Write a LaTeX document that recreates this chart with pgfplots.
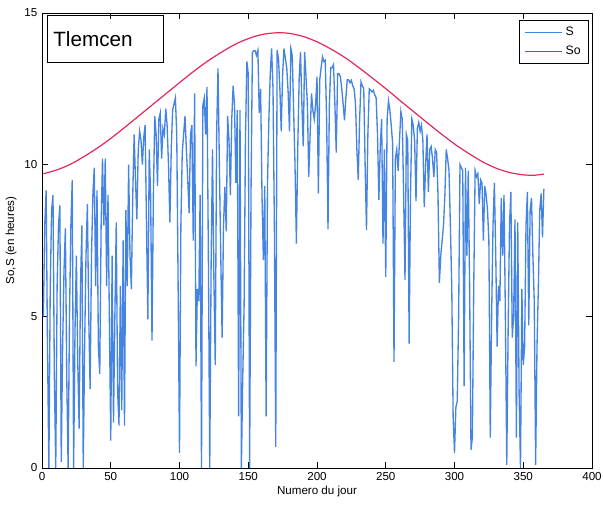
\documentclass[border=0pt]{standalone}
\usepackage{pgfplots}
\pgfplotsset{compat=1.18}
\usepackage{pgfplotstable}
\usepackage{fontspec}
\setmainfont{Liberation Sans}
\definecolor{sblue}{RGB}{70,132,228}
\definecolor{sored}{RGB}{228,40,90}

\pgfplotstableread{
y
5.0
8.0
9.15
4.0
0.0
6.0
8.5
9.0
3.0
0.0
6.0
8.0
8.66
0.2
4.0
6.5
7.9
3.0
0.0
5.0
8.0
9.5
0.0
4.5
7.0
3.5
1.3
6.0
8.0
0.0
4.0
7.0
8.7
5.0
2.6
7.0
9.0
9.9
6.0
9.15
4.0
3.1
8.0
10.2
8.0
10.2
6.0
9.0
4.9
0.9
7.0
1.5
5.0
8.1
2.5
1.4
6.0
1.9
7.5
1.4
8.5
6.0
10.0
7.0
5.9
9.0
11.0
9.5
8.2
10.5
11.1
10.8
10.0
10.9
11.3
8.0
4.9
10.5
9.0
4.2
9.0
11.6
11.0
9.3
11.5
11.7
10.2
11.2
11.0
11.85
11.3
10.0
8.1
10.5
11.8
12.0
12.2
11.0
6.0
0.5
8.0
10.4
11.0
11.6
10.5
9.5
8.4
11.0
11.3
7.5
12.35
3.35
5.9
5.5
9.0
0.0
11.96
12.2
11.0
12.56
7.0
0.0
6.75
10.5
6.3
3.4
11.0
13.17
10.0
7.0
4.3
8.0
9.27
7.8
11.6
10.8
9.0
11.5
12.6
12.0
9.4
11.8
1.7
11.8
0.0
3.0
5.4
11.0
13.4
13.0
0.0
9.0
13.7
13.75
13.75
13.6
13.77
11.7
12.5
9.0
6.85
9.3
1.7
9.4
11.5
13.0
13.83
12.5
8.0
0.7
13.77
13.5
12.5
11.1
13.0
13.83
13.5
13.2
12.4
11.1
13.83
13.6
11.8
10.0
7.4
10.5
12.8
13.72
12.0
10.6
13.72
12.9
12.0
9.6
11.0
12.35
11.8
11.5
12.0
12.9
9.05
12.8
13.2
13.55
13.4
13.44
11.5
7.87
12.0
13.2
13.2
13.3
12.0
10.4
13.0
13.0
12.9
12.5
12.0
11.46
12.2
12.8
12.8
12.7
12.78
12.6
12.5
12.0
10.5
9.49
11.5
12.73
12.6
12.5
10.0
7.84
11.0
12.5
12.45
12.4
12.45
12.3
12.2
11.0
8.83
10.6
11.5
7.4
10.5
6.3
11.5
12.1
11.8
11.3
10.7
3.5
10.2
10.5
9.8
10.8
11.75
11.5
9.0
6.2
11.0
10.8
4.1
9.0
11.5
11.3
10.8
8.8
11.2
11.4
11.1
11.3
10.8
8.6
10.0
11.0
9.1
10.5
10.6
10.2
9.6
10.5
10.4
9.0
6.1
7.0
7.5
8.0
9.0
10.5
10.2
9.8
8.0
6.0
1.7
0.5
2.0
2.2
5.0
10.0
9.9
9.8
2.7
9.9
7.0
9.8
6.0
0.6
1.0
6.0
9.8
9.6
9.7
8.7
9.5
9.4
7.5
9.3
9.0
8.5
7.5
1.0
5.0
8.0
9.4
7.0
4.0
6.0
5.5
8.9
7.0
9.0
5.0
0.1
4.5
8.0
9.1
4.3
5.0
8.2
1.0
8.1
2.4
0.0
5.9
3.4
4.0
8.0
9.1
4.7
8.5
8.9
7.0
5.5
0.1
4.0
6.0
8.5
9.05
7.6
9.2
}\Sdata

\pgfplotstableread{
x y
1 9.70
11 9.83
21 10.02
31 10.28
41 10.57
51 10.90
61 11.26
71 11.63
81 12.00
91 12.37
101 12.74
111 13.10
121 13.43
131 13.72
141 13.98
151 14.17
161 14.30
172 14.35
181 14.32
191 14.21
201 14.03
211 13.79
221 13.51
231 13.18
241 12.83
251 12.47
261 12.09
271 11.72
281 11.35
291 10.99
301 10.65
311 10.35
321 10.08
331 9.87
341 9.73
351 9.66
358 9.65
365 9.69
}\Sodata

\begin{document}
\begin{tikzpicture}
\begin{axis}[
  name=ax,
  scale only axis,
  width=412.5pt, height=341.25pt,
  xmin=0, xmax=400, ymin=0, ymax=15,
  xtick={0,50,...,400}, ytick={0,5,10,15},
  tick align=inside,
  major tick length=4.5pt,
  /pgf/number format/assume math mode=true,
  tick label style={font=\fontsize{8.7}{10}\selectfont},
  label style={font=\fontsize{8.7}{10}\selectfont},
  xlabel={Numero du jour},
  ylabel={So,S (en heures)},
  xlabel style={yshift=3pt},
  ylabel style={yshift=-1pt},
  axis line style={black, line width=0.6pt},
  every tick/.style={black, line width=0.5pt},
  legend style={at={(rel axis cs:0.9945,0.9846)}, anchor=north east,
    draw=black, line width=0.6pt, font=\fontsize{9.2}{11}\selectfont,
    inner xsep=4pt, inner ysep=3pt, row sep=2.5pt},
  legend cell align=left,
  legend image code/.code={\draw[#1, line width=0.9pt] (0pt,0pt) -- (28pt,0pt);},
]
\addplot[sblue, line width=1pt] table[x expr=\coordindex+1, y=y] {\Sdata};
\addlegendentry{S}
\addplot[sored, line width=0.9pt, smooth] table[x=x, y=y] {\Sodata};
\addlegendentry{So}
\node[draw, line width=0.6pt, anchor=north west, minimum width=87pt,
  minimum height=35pt, text width=78pt, inner xsep=4.5pt, align=left,
  font=\fontsize{15.5}{18}\selectfont] at (rel axis cs:0.009,0.9956) {Tlemcen};
\end{axis}
\pgfresetboundingbox
\path ([xshift=-31.5pt,yshift=-28.5pt]ax.south west) rectangle ([xshift=8.25pt,yshift=9.75pt]ax.north east);
\end{tikzpicture}
\end{document}
